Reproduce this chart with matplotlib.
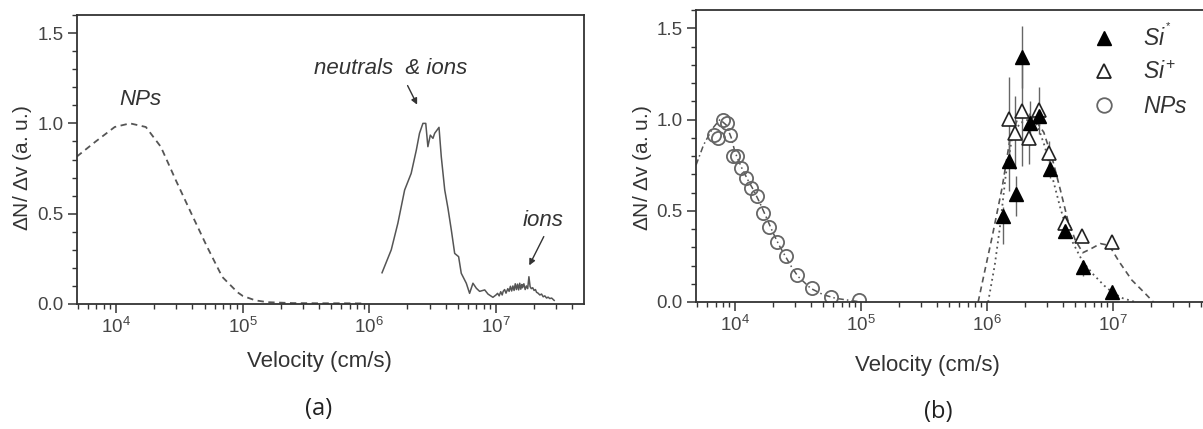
import matplotlib
matplotlib.use("Agg")
import matplotlib.pyplot as plt
from matplotlib.ticker import LogLocator, MultipleLocator
from matplotlib.lines import Line2D

plt.rcParams['font.family'] = ['Liberation Sans', 'DejaVu Sans']
plt.rcParams['mathtext.fontset'] = 'custom'
plt.rcParams['mathtext.rm'] = 'Liberation Sans'
plt.rcParams['mathtext.it'] = 'Liberation Sans:italic'
plt.rcParams['mathtext.bf'] = 'Liberation Sans:bold'

INK = '#333333'
LINE = '#555555'

# ---------------- Panel (a) data ----------------
np_a_v = [4.9e3, 6.92e3, 9.77e3, 1.29e4, 1.72e4, 2.26e4, 2.99e4, 3.94e4, 5.21e4,
          6.9e4, 9.1e4, 1.0e5, 1.26e5, 1.58e5, 2.5e5, 4.0e5, 6.3e5, 9.3e5]
np_a_y = [0.816, 0.90, 0.98, 1.0, 0.98, 0.87, 0.68, 0.50, 0.32,
          0.15, 0.065, 0.045, 0.02, 0.01, 0.005, 0.004, 0.004, 0.003]

ions_a_v = [1.26e6, 1.49e6, 1.68e6, 1.90e6, 2.14e6, 2.35e6, 2.49e6, 2.65e6, 2.79e6,
            2.90e6, 3.03e6, 3.18e6, 3.28e6, 3.55e6, 3.70e6, 3.94e6, 4.18e6, 4.44e6,
            4.72e6, 5.07e6, 5.32e6, 5.83e6, 6.19e6, 6.58e6, 7.0e6, 7.43e6, 8.15e6,
            8.65e6, 9.46e6, 1.0e7, 1.03e7, 1.06e7, 1.09e7, 1.12e7, 1.14e7, 1.17e7,
            1.20e7, 1.24e7, 1.27e7, 1.30e7, 1.33e7, 1.36e7, 1.39e7, 1.42e7, 1.45e7,
            1.48e7, 1.51e7, 1.54e7, 1.57e7, 1.60e7, 1.62e7, 1.66e7, 1.70e7, 1.74e7,
            1.78e7, 1.82e7, 1.86e7, 1.90e7, 1.95e7, 2.0e7, 2.05e7, 2.09e7, 2.15e7,
            2.22e7, 2.29e7, 2.36e7, 2.43e7, 2.51e7, 2.58e7, 2.66e7, 2.75e7, 2.88e7]
ions_a_y = [0.173, 0.30, 0.447, 0.631, 0.723, 0.852, 0.945, 1.0, 1.0,
            0.871, 0.935, 0.917, 0.945, 0.978, 0.815, 0.631, 0.529, 0.41,
            0.28, 0.262, 0.17, 0.115, 0.059, 0.115, 0.087, 0.07, 0.078,
            0.055, 0.037, 0.05, 0.059, 0.045, 0.068, 0.05, 0.07, 0.08,
            0.06, 0.085, 0.07, 0.098, 0.072, 0.10, 0.075, 0.112, 0.08,
            0.11, 0.078, 0.115, 0.082, 0.108, 0.09, 0.112, 0.08, 0.10,
            0.085, 0.151, 0.096, 0.085, 0.09, 0.075, 0.08, 0.065, 0.06,
            0.05, 0.055, 0.04, 0.045, 0.033, 0.038, 0.03, 0.033, 0.02]

# ---------------- Panel (b) data ----------------
si0_v = [1.33e6, 1.50e6, 1.69e6, 1.89e6, 2.19e6, 2.60e6, 3.17e6, 4.13e6, 5.8e6, 9.75e6]
si0_y = [0.47, 0.77, 0.59, 1.34, 0.98, 1.02, 0.73, 0.39, 0.19, 0.055]
si0_err_lo = [0.15, 0.16, 0.12, 0.17, 0.12, 0.05, 0.05, 0.03, 0.05, 0.02]
si0_err_hi = [0.05, 0.12, 0.10, 0.17, 0.12, 0.05, 0.05, 0.03, 0.03, 0.02]

sip_v = [1.50e6, 1.67e6, 1.89e6, 2.17e6, 2.58e6, 3.13e6, 4.13e6, 5.7e6, 9.75e6]
sip_y = [1.005, 0.927, 1.045, 0.896, 1.05, 0.814, 0.434, 0.361, 0.33]
sip_err = [0.23, 0.20, 0.30, 0.14, 0.13, 0.07, 0.04, 0.03, 0.03]

np_b_v = [6.8e3, 7.3e3, 7.98e3, 8.63e3, 9.08e3, 9.64e3, 1.04e4, 1.12e4, 1.23e4,
          1.35e4, 1.50e4, 1.67e4, 1.87e4, 2.16e4, 2.56e4, 3.11e4, 4.10e4, 5.74e4, 9.64e4]
np_b_y = [0.913, 0.90, 1.0, 0.98, 0.913, 0.80, 0.80, 0.735, 0.68,
          0.626, 0.583, 0.49, 0.41, 0.33, 0.254, 0.148, 0.074, 0.028, 0.009]

np_fit_v = [4.9e3, 5.62e3, 6.61e3, 7.59e3, 8.51e3, 9.33e3, 1.0e4, 1.12e4, 1.26e4,
            1.41e4, 1.58e4, 1.78e4, 2.0e4, 2.24e4, 2.51e4, 2.82e4, 3.16e4, 3.98e4,
            5.01e4, 6.31e4, 7.94e4, 1.0e5]
np_fit_y = [0.75, 0.86, 0.95, 1.0, 0.97, 0.90, 0.82, 0.74, 0.67,
            0.61, 0.54, 0.46, 0.38, 0.31, 0.25, 0.19, 0.14, 0.075,
            0.04, 0.02, 0.01, 0.0]

sip_fit_v = [8.5e5, 9.8e5, 1.10e6, 1.32e6, 1.51e6, 1.74e6, 2.0e6, 2.40e6, 2.82e6,
             3.31e6, 3.80e6, 4.37e6, 5.01e6, 5.75e6, 6.61e6, 7.94e6, 9.33e6,
             1.12e7, 1.41e7, 1.78e7, 2.09e7]
sip_fit_y = [0.0, 0.20, 0.36, 0.63, 0.88, 1.0, 1.03, 1.0, 0.93,
             0.78, 0.62, 0.45, 0.34, 0.27, 0.29, 0.32, 0.31,
             0.22, 0.12, 0.05, 0.0]

si0_fit_v = [1.02e6, 1.15e6, 1.26e6, 1.41e6, 1.58e6, 1.82e6, 2.14e6, 2.51e6, 2.88e6,
             3.31e6, 3.80e6, 4.37e6, 5.01e6, 5.75e6, 7.0e6, 8.5e6, 1.0e7, 1.2e7, 1.5e7]
si0_fit_y = [0.0, 0.2, 0.4, 0.7, 0.9, 0.98, 1.0, 0.97, 0.85,
             0.68, 0.52, 0.38, 0.30, 0.22, 0.15, 0.09, 0.05, 0.02, 0.0]

W, H = 1203, 429
fig = plt.figure(figsize=(W / 100, H / 100), dpi=100)

def style_axes(ax, xlim):
    ax.set_xscale('log')
    ax.set_xlim(*xlim)
    ax.set_ylim(0, 1.6)
    ax.yaxis.set_major_locator(MultipleLocator(0.5))
    ax.yaxis.set_minor_locator(MultipleLocator(0.1))
    ax.yaxis.set_major_formatter(matplotlib.ticker.FormatStrFormatter('%.1f'))
    ax.xaxis.set_major_locator(LogLocator(base=10, numticks=10))
    ax.xaxis.set_minor_locator(LogLocator(base=10, subs=range(2, 10), numticks=20))
    ax.xaxis.set_minor_formatter(matplotlib.ticker.NullFormatter())
    ax.tick_params(which='major', direction='out', length=6.5, width=1.1,
                   color=INK, labelcolor='#444444', labelsize=13.5, pad=3)
    ax.tick_params(which='minor', direction='out', length=3.5, width=1.0, color=INK)
    ax.tick_params(top=False, right=False, which='both')
    for s in ax.spines.values():
        s.set_color(INK)
        s.set_linewidth(1.3)

# ---------------- Panel (a) ----------------
axa = fig.add_axes([77 / W, 1 - 304 / H, (584 - 77) / W, (304 - 15) / H])
style_axes(axa, (10 ** 3.692, 10 ** 7.695))
axa.plot(np_a_v, np_a_y, linestyle=(0, (3.5, 2.5)), color=LINE, lw=1.3)
axa.plot(ions_a_v, ions_a_y, linestyle='-', color=LINE, lw=1.1)
axa.text(1.55e4, 1.13, 'NPs', style='italic', fontsize=16, color=INK,
         ha='center', va='center')
axa.text(1.47e6, 1.306, 'neutrals  & ions', style='italic', fontsize=16, color=INK,
         ha='center', va='center')
axa.annotate('', xy=(2.44e6, 1.09), xytext=(1.96e6, 1.223),
             arrowprops=dict(arrowstyle='-|>', lw=1.0, color=INK, mutation_scale=9))
axa.text(2.35e7, 0.465, 'ions', style='italic', fontsize=16, color=INK,
         ha='center', va='center')
axa.annotate('', xy=(1.79e7, 0.20), xytext=(2.44e7, 0.387),
             arrowprops=dict(arrowstyle='-|>', lw=1.0, color=INK, mutation_scale=9))

# ---------------- Panel (b) ----------------
axb = fig.add_axes([696 / W, 1 - 302 / H, (1203 - 696) / W, (302 - 10) / H])
style_axes(axb, (10 ** 3.69, 10 ** 7.714))
axb.spines['right'].set_visible(False)
axb.plot(np_fit_v, np_fit_y, linestyle=(0, (4, 2, 1, 2)), color=LINE, lw=1.1)
axb.plot(sip_fit_v, sip_fit_y, linestyle=(0, (3.5, 2.5)), color=LINE, lw=1.2)
axb.plot(si0_fit_v, si0_fit_y, linestyle=(0, (1, 2)), color=LINE, lw=1.3)
axb.errorbar(sip_v, sip_y, yerr=sip_err, fmt='none', ecolor='#666666', elinewidth=1.0)
axb.errorbar(si0_v, si0_y, yerr=[si0_err_lo, si0_err_hi], fmt='none',
             ecolor='#666666', elinewidth=1.0)
axb.plot(sip_v, sip_y, linestyle='none', marker='^', ms=9.5, mfc='white',
         mec='#222222', mew=1.2)
axb.plot(si0_v, si0_y, linestyle='none', marker='^', ms=9.5, mfc='black',
         mec='black', mew=1.0)
axb.plot(np_b_v, np_b_y, linestyle='none', marker='o', ms=9.5, mfc='none',
         mec='#666666', mew=1.3)

handles = [
    Line2D([], [], linestyle='none', marker='^', ms=10.5, mfc='black', mec='black'),
    Line2D([], [], linestyle='none', marker='^', ms=10.5, mfc='white', mec='#222222', mew=1.3),
    Line2D([], [], linestyle='none', marker='o', ms=10.5, mfc='none', mec='#666666', mew=1.3),
]
labels = [r'$Si^{^{*}}$', r'$Si^{+}$', r'$NPs$']
axb.legend(handles, labels, loc='upper left', bbox_to_anchor=(0.75, 1.01),
           frameon=False, fontsize=16.5, handlelength=1.0, handletextpad=1.2,
           labelspacing=0.45, labelcolor=INK, borderaxespad=0.3)

# ---------------- Labels ----------------
ylab = r'$\Delta$N/ $\Delta$v (a. u.)'
fig.text(22 / W, 1 - 168 / H, ylab, rotation=90, ha='center', va='center',
         fontsize=15, color=INK)
fig.text(642 / W, 1 - 168 / H, ylab, rotation=90, ha='center', va='center',
         fontsize=15, color=INK)
fig.text(319 / W, 1 - 362 / H, 'Velocity (cm/s)', ha='center', va='center',
         fontsize=16, color=INK)
fig.text(927 / W, 1 - 366 / H, 'Velocity (cm/s)', ha='center', va='center',
         fontsize=16, color=INK)
fig.text(319 / W, 1 - 409 / H, '(a)', ha='center', va='center',
         fontsize=17, color='#222222', family='Open Sans')
fig.text(938 / W, 1 - 412 / H, '(b)', ha='center', va='center',
         fontsize=17, color='#222222', family='Open Sans')

fig.savefig('out.png', dpi=100)
